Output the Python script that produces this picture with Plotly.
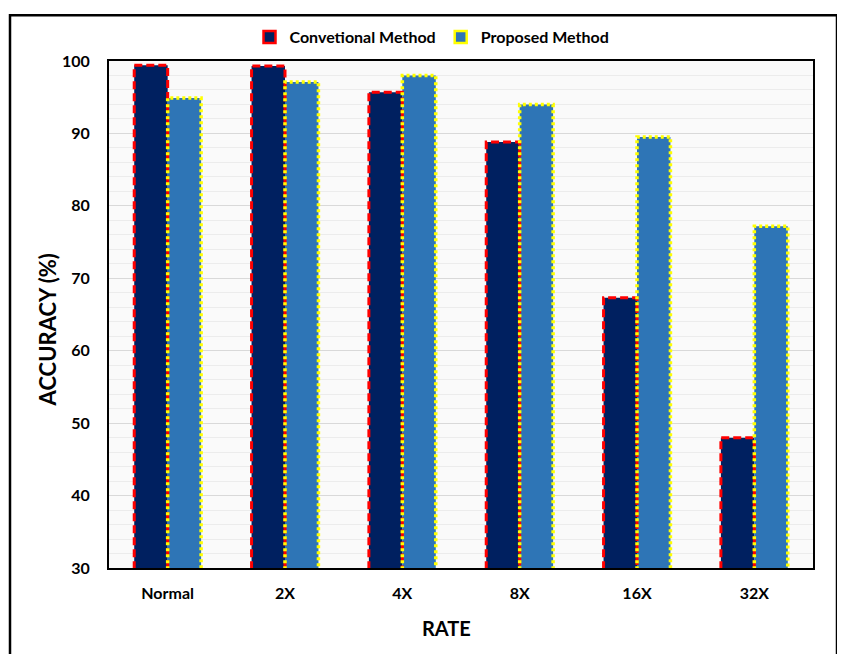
import plotly.graph_objects as go

categories = ["Normal", "2X", "4X", "8X", "16X", "32X"]
conventional = [99.4, 99.3, 95.7, 88.8, 67.3, 48.0]
proposed = [94.9, 97.1, 98.0, 94.0, 89.5, 77.2]
y_ticks = [30, 40, 50, 60, 70, 80, 90, 100]

NAVY = "#002060"
BLUE = "#2E75B6"
BW = 0.285  # bar width in category units
FONT = "Lato"

idx = list(range(len(categories)))


def outline(values, offset):
    xs, ys = [], []
    for i, v in zip(idx, values):
        x0, x1 = i + offset, i + offset + BW
        xs += [x0, x0, x1, x1, None]
        ys += [0, v, v, 0, None]
    return xs, ys


fig = go.Figure()

fig.add_trace(go.Bar(x=idx, y=conventional, width=BW, offset=-BW,
                     marker=dict(color=NAVY, line=dict(width=0)),
                     showlegend=False, name="Convetional Method"))
fig.add_trace(go.Bar(x=idx, y=proposed, width=BW, offset=0,
                     marker=dict(color=BLUE, line=dict(width=0)),
                     showlegend=False, name="Proposed Method"))

cx, cy = outline(conventional, -BW)
fig.add_trace(go.Scatter(x=cx, y=cy, mode="lines", showlegend=False,
                         hoverinfo="skip",
                         line=dict(color="#FF0000", width=3, dash="8px,4px")))
px_, py_ = outline(proposed, 0)
fig.add_trace(go.Scatter(x=px_, y=py_, mode="lines", showlegend=False,
                         hoverinfo="skip",
                         line=dict(color="#FFFF00", width=3.5, dash="3px,3px")))

# legend entries
fig.add_trace(go.Bar(x=[None], y=[None], name="Convetional Method",
                     marker=dict(color=NAVY, line=dict(color="#FF0000", width=2.5))))
fig.add_trace(go.Bar(x=[None], y=[None], name="Proposed Method",
                     marker=dict(color=BLUE, line=dict(color="#FFFF00", width=2.5))))

OFF = 8  # page body margin
W, H = 845, 654
L, T = 109 - OFF, 58 - OFF
pw, ph = 704, 510
R = W - L - pw
B = H - T - ph


def py(screen_y):
    return (T + ph - (screen_y - OFF)) / ph


def pxr(screen_x):
    return (screen_x - OFF - L) / pw


fig.update_layout(
    width=W, height=H,
    margin=dict(l=L, r=R, t=T, b=B),
    paper_bgcolor="white",
    plot_bgcolor="#FAFAFA",
    barmode="overlay",
    font=dict(family=FONT, color="#000000"),
    legend=dict(orientation="h", x=pxr(432), xanchor="center",
                y=py(34), yanchor="middle",
                font=dict(size=16, family=FONT, weight="bold"),
                bgcolor="rgba(0,0,0,0)", itemwidth=30, traceorder="normal"),
    xaxis=dict(range=[-0.5, len(categories) - 0.5],
               tickvals=idx, ticktext=categories,
               showgrid=False, zeroline=False,
               showline=True, linecolor="#000000", linewidth=2, mirror=True,
               ticks="", ticklabelstandoff=10,
               tickfont=dict(size=16, family=FONT, weight="bold")),
    yaxis=dict(range=[30, 100], tickvals=y_ticks,
               showgrid=True, gridcolor="#D9D9D9", gridwidth=1,
               minor=dict(dtick=2, showgrid=True, gridcolor="#ECECEC", gridwidth=1),
               zeroline=False,
               showline=True, linecolor="#000000", linewidth=2, mirror=True,
               ticks="", ticklabelstandoff=14,
               tickfont=dict(size=16, family=FONT, weight="bold")),
    annotations=[
        dict(text="RATE", xref="paper", yref="paper", x=pxr(446), y=py(628),
             xanchor="center", yanchor="middle", showarrow=False,
             font=dict(size=20, family=FONT, weight="bold")),
        dict(text="ACCURACY (%)", xref="paper", yref="paper", x=pxr(47), y=py(329),
             xanchor="center", yanchor="middle", showarrow=False, textangle=-90,
             font=dict(size=22, family=FONT, weight="bold")),
    ],
    shapes=[dict(type="rect", xref="paper", yref="paper", layer="above",
                 x0=pxr(10), x1=pxr(837),
                 y0=py(680), y1=py(12),
                 line=dict(color="#000000", width=2.5), fillcolor="rgba(0,0,0,0)")],
)

fig.write_html("out.html")
